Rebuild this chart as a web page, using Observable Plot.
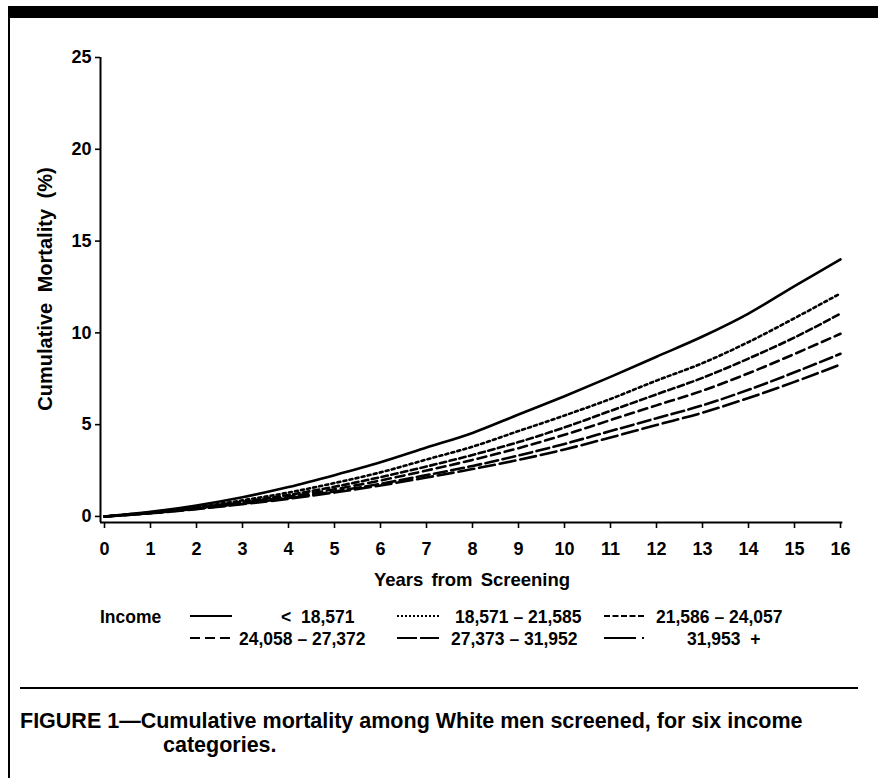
<!DOCTYPE html>
<html>
<head>
<meta charset="utf-8">
<script src="https://cdn.jsdelivr.net/npm/d3@7"></script>
<script src="https://cdn.jsdelivr.net/npm/@observablehq/plot@0.6"></script>
<style>
  html, body { margin: 0; padding: 0; background: #fff; }
  body { width: 878px; height: 778px; position: relative; overflow: hidden;
         font-family: "Liberation Sans", Arial, Helvetica, sans-serif; font-weight: bold; color: #000; }
  #chart { position: absolute; left: 0; top: 0; }
  .abs { position: absolute; white-space: pre; line-height: 20px; }
</style>
</head>
<body>
<div class="abs" style="left:8px;top:6px;width:870px;height:12px;background:#000"></div>
<div class="abs" style="left:8px;top:6px;width:1.5px;height:772px;background:#000"></div>
<div id="chart"></div>
<div id="legend"></div>
<div class="abs" style="left:20px;top:687px;width:838px;height:2px;background:#000"></div>
<div class="abs" style="left:20px;top:709px;font-size:21.5px;line-height:25px">FIGURE 1—Cumulative mortality among White men screened, for six income</div>
<div class="abs" style="left:163px;top:733px;font-size:21.5px;line-height:25px">categories.</div>
<script>
// ---- data ----
const years = [0, 1, 2, 3, 4, 5, 6, 7, 8, 9, 10, 11, 12, 13, 14, 15, 16];
const yTicks = [0, 5, 10, 15, 20, 25];
const categories = ["<  18,571", "18,571 – 21,585", "21,586 – 24,057", "24,058 – 27,372", "27,373 – 31,952", "31,953  +"];
const incomeLt18571      = [0, 0.25, 0.60, 1.05, 1.60, 2.25, 2.95, 3.75, 4.55, 5.55, 6.55, 7.60, 8.70, 9.80, 11.05, 12.55, 14.00];
const income18571_21585  = [0, 0.22, 0.50, 0.88, 1.30, 1.82, 2.40, 3.10, 3.80, 4.65, 5.50, 6.40, 7.40, 8.35, 9.50, 10.80, 12.15];
const income21586_24057  = [0, 0.20, 0.47, 0.80, 1.17, 1.62, 2.14, 2.72, 3.35, 4.05, 4.85, 5.75, 6.65, 7.55, 8.60, 9.75, 11.05];
const income24058_27372  = [0, 0.19, 0.44, 0.75, 1.08, 1.48, 1.96, 2.50, 3.08, 3.72, 4.45, 5.25, 6.05, 6.85, 7.80, 8.85, 9.95];
const income27373_31952  = [0, 0.18, 0.42, 0.70, 1.00, 1.36, 1.78, 2.25, 2.75, 3.32, 3.95, 4.65, 5.35, 6.05, 6.90, 7.85, 8.86];
const income31953plus    = [0, 0.17, 0.40, 0.67, 0.96, 1.30, 1.69, 2.12, 2.58, 3.08, 3.65, 4.30, 4.98, 5.65, 6.45, 7.33, 8.28];
const seriesValues = [incomeLt18571, income18571_21585, income21586_24057, income24058_27372, income27373_31952, income31953plus];

// ---- styles ----
const chartDash  = [null, "3,3.2", "6.5,3.5", "9,5", "13,4.5", "16,5"];
const legendDash = [null, "2,2", "6,2.5", "10,5", "20,3", "32,6,2,10"];

const xMin = -0.087, yMin = -0.33;

const rows = categories.map((c, i) => years.map((yr, j) => ({category: c, year: yr, value: seriesValues[i][j]})));

const chart = Plot.plot({
  width: 878,
  height: 600,
  marginLeft: 100,
  marginRight: 38,
  marginTop: 57,
  marginBottom: 78,
  style: {fontFamily: "'Liberation Sans', Arial, sans-serif", fontSize: "18px", fontWeight: "bold", color: "#000", background: "transparent"},
  x: {domain: [xMin, 16]},
  y: {domain: [yMin, 25]},
  marks: [
    Plot.axisX({ticks: years, tickSize: 6, tickPadding: 14, label: null, strokeWidth: 1.6}),
    Plot.axisY({ticks: yTicks, tickSize: 5, tickPadding: 4, label: null, strokeWidth: 1.6}),
    Plot.ruleY([yMin], {x1: xMin, x2: 16.05, strokeWidth: 2}),
    Plot.ruleX([xMin], {y1: yMin, y2: 25, strokeWidth: 2}),
    ...rows.map((r, i) => Plot.line(r, {
      x: "year", y: "value", stroke: "#000", strokeWidth: 2.6,
      strokeDasharray: chartDash[i] || undefined, curve: "monotone-x"
    }))
  ]
});
document.getElementById("chart").append(chart);

// axis titles
const yl = document.createElement("div");
yl.className = "abs";
yl.style.cssText = "left:45px;top:289px;font-size:20px;word-spacing:5px;transform:translate(-50%,-50%) rotate(-90deg);";
yl.textContent = "Cumulative Mortality (%)";
document.body.append(yl);
const xl = document.createElement("div");
xl.className = "abs";
xl.style.cssText = "left:472px;top:580px;font-size:18.5px;word-spacing:3px;transform:translate(-50%,-50%);";
xl.textContent = "Years from Screening";
document.body.append(xl);

// legend
const legend = document.getElementById("legend");
const addText = (txt, left, cy) => {
  const d = document.createElement("div");
  d.className = "abs";
  d.style.cssText = `left:${left}px;top:${cy - 10}px;font-size:17.5px;`;
  d.textContent = txt;
  legend.append(d);
};
addText("Income", 100, 617);
const items = [
  {sx: 190, tx: 281, cy: 617}, {sx: 397, tx: 455, cy: 617}, {sx: 604, tx: 656, cy: 617},
  {sx: 190, tx: 239, cy: 639}, {sx: 397, tx: 451, cy: 639}, {sx: 604, tx: 687, cy: 639}
];
items.forEach((it, i) => {
  const s = document.createElementNS("http://www.w3.org/2000/svg", "svg");
  s.setAttribute("width", 44); s.setAttribute("height", 6);
  s.style.cssText = `position:absolute;left:${it.sx}px;top:${it.cy - 4}px;`;
  const ln = document.createElementNS("http://www.w3.org/2000/svg", "line");
  ln.setAttribute("x1", 0); ln.setAttribute("x2", 42); ln.setAttribute("y1", 3); ln.setAttribute("y2", 3);
  ln.setAttribute("stroke", "#000"); ln.setAttribute("stroke-width", 2.2);
  if (legendDash[i]) ln.setAttribute("stroke-dasharray", legendDash[i]);
  s.append(ln);
  legend.append(s);
  addText(categories[i], it.tx, it.cy);
});
</script>
</body>
</html>
